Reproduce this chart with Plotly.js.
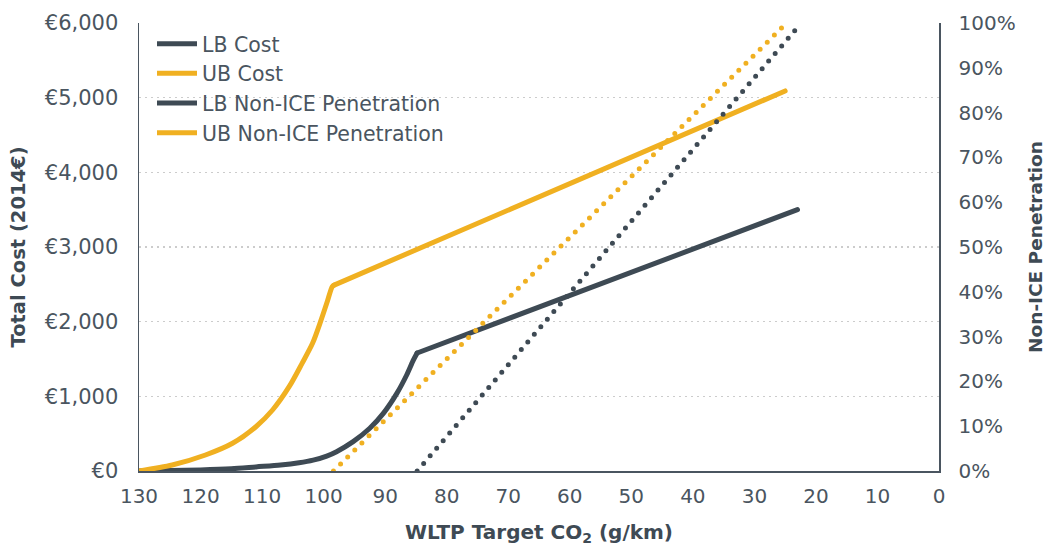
<!DOCTYPE html>
<html>
<head>
<meta charset="utf-8">
<script src="https://cdn.plot.ly/plotly-3.0.1.min.js"></script>
<style>
  html, body { margin: 0; padding: 0; background: #fff; }
  #chart { width: 1048px; height: 550px; }
  /* round caps give the dotted series round dots and the solid ones round ends */
  .scatterlayer .js-line { stroke-linecap: round; stroke-linejoin: round; }
</style>
</head>
<body>
<div id="chart"></div>
<script>
// Cost curves (WLTP target CO2 in g/km -> total cost in 2014 EUR).
// The last two points of each curve are the straight stretch after the kink.
const lbCostCO2 = [130, 120, 115, 111, 107, 104, 101.7, 99.5, 97.9, 95.2, 92.5, 90.3, 88.1, 86.5, 85.4, 84.8, 23];
const lbCost    = [0, 15, 30, 55, 80, 110, 145, 200, 259, 393, 572, 772, 1040, 1286, 1487, 1580, 3500];

const ubCostCO2 = [130, 124.6, 119.2, 114.8, 111, 108.3, 105.6, 103.5, 101.8, 100.5, 99.4, 98.6, 98.3, 25];
const ubCost    = [0, 80, 214, 371, 593, 817, 1129, 1442, 1710, 2000, 2270, 2470, 2490, 5090];

// Non-ICE penetration (share of new vehicles)
const lbPenCO2 = [84.8, 23];
const lbPen    = [0, 0.99];
const ubPenCO2 = [98.4, 25.5];
const ubPen    = [0, 0.99];

const seriesNames = ['LB Cost', 'UB Cost', 'LB Non-ICE Penetration', 'UB Non-ICE Penetration'];

const DARK = '#3e4a54';
const GOLD = '#f0b021';
const TEXT = '#4a5560';
const FONT = '"DejaVu Sans", "Noto Sans", sans-serif';

// smooth curved part + straight part after the kink
function costTraces(xs, ys, name, color) {
  return [
    { x: xs.slice(0, -1), y: ys.slice(0, -1), type: 'scatter', mode: 'lines', name: name,
      line: { color: color, width: 5, shape: 'spline', smoothing: 0.8 },
      legendgroup: name, showlegend: true },
    { x: xs.slice(-2), y: ys.slice(-2), type: 'scatter', mode: 'lines', name: name,
      line: { color: color, width: 5 }, legendgroup: name, showlegend: false }
  ];
}

const traces = [
  ...costTraces(lbCostCO2, lbCost, seriesNames[0], DARK),
  ...costTraces(ubCostCO2, ubCost, seriesNames[1], GOLD),
  { x: lbPenCO2, y: lbPen, type: 'scatter', mode: 'lines', name: seriesNames[2],
    line: { color: DARK, width: 5, dash: '0px,10px' }, yaxis: 'y2', showlegend: false,
    legendgroup: 'lbpen' },
  { x: ubPenCO2, y: ubPen, type: 'scatter', mode: 'lines', name: seriesNames[3],
    line: { color: GOLD, width: 5, dash: '0px,10px' }, yaxis: 'y2', showlegend: false,
    legendgroup: 'ubpen' },
  // solid legend keys for the penetration series
  { x: [null], y: [null], type: 'scatter', mode: 'lines', name: seriesNames[2],
    line: { color: DARK, width: 5 }, yaxis: 'y2', legendgroup: 'lbpen', hoverinfo: 'skip' },
  { x: [null], y: [null], type: 'scatter', mode: 'lines', name: seriesNames[3],
    line: { color: GOLD, width: 5 }, yaxis: 'y2', legendgroup: 'ubpen', hoverinfo: 'skip' }
];

const layout = {
  width: 1048, height: 550,
  margin: { l: 139, r: 109, t: 23, b: 79, pad: 0 },
  paper_bgcolor: '#fff', plot_bgcolor: '#fff',
  font: { family: FONT, size: 20, color: TEXT },
  showlegend: true,
  legend: {
    x: 0.01625, y: 0.998, xanchor: 'left', yanchor: 'top',
    bgcolor: 'rgba(0,0,0,0)', font: { size: 20.5, color: TEXT },
    traceorder: 'normal', itemwidth: 40, tracegroupgap: 0
  },
  xaxis: {
    range: [130, 0], dtick: 10, tick0: 0,
    showline: true, linecolor: TEXT, linewidth: 1.5,
    showgrid: false, zeroline: false, ticks: '',
    ticklabelstandoff: 6,
    tickfont: { size: 20, color: TEXT },
    title: { text: 'WLTP Target CO<sub>2</sub> (g/km)', standoff: 18,
             font: { size: 20, color: DARK, weight: 'bold' } }
  },
  yaxis: {
    range: [0, 6000], dtick: 1000, tick0: 0,
    tickprefix: '€', tickformat: ',d',
    showline: true, linecolor: TEXT, linewidth: 1.5,
    showgrid: true, gridcolor: '#cccccc', gridwidth: 1.5, griddash: '1.5px,4.5px',
    zeroline: false, ticks: '', ticklabelstandoff: 15,
    tickfont: { size: 21, color: TEXT },
    title: { text: 'Total Cost (2014€)', standoff: 14,
             font: { size: 19.5, color: DARK, weight: 'bold' } }
  },
  yaxis2: {
    overlaying: 'y', side: 'right',
    range: [0, 1], dtick: 0.1, tick0: 0, tickformat: '.0%',
    showline: true, linecolor: TEXT, linewidth: 1.5,
    showgrid: false, zeroline: false, ticks: '', ticklabelstandoff: 14,
    tickfont: { size: 20, color: TEXT },
    title: { text: 'Non-ICE Penetration', standoff: 14,
             font: { size: 18.5, color: DARK, weight: 'bold' } }
  }
};

Plotly.newPlot('chart', traces, layout, { displayModeBar: false, staticPlot: true });
</script>
</body>
</html>
